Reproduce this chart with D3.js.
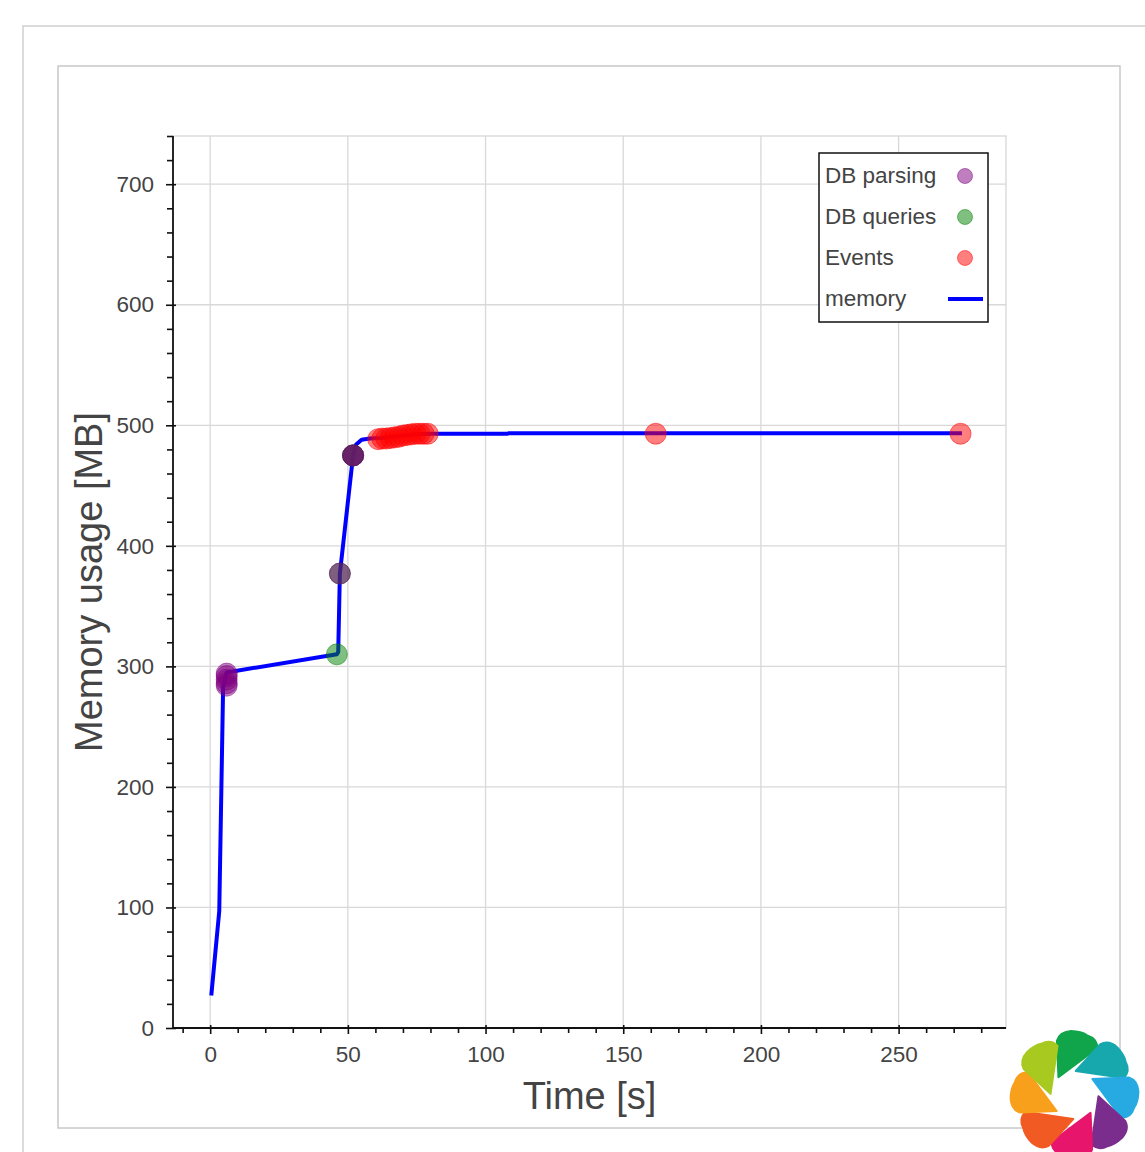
<!DOCTYPE html>
<html><head><meta charset="utf-8">
<script src="https://cdn.jsdelivr.net/npm/d3@7"></script>
<style>
html,body{margin:0;padding:0;background:#fff;}
svg{display:block;}
text{font-family:"Liberation Sans",Arial,Helvetica,sans-serif;}
</style></head>
<body>
<svg id="chart" width="1145" height="1152"></svg>
<script>
// ---------- data ----------
const memoryT = [0.4, 3.3, 4.7, 6.0, 46.0, 46.5, 47.1, 51.9, 53.0, 55.0, 58.0, 62, 66, 70, 75, 80, 108, 108.5, 273];
const memoryV = [27, 97, 283, 295, 310, 312, 377, 475, 484, 488, 489, 489.5, 490.5, 491.5, 492.5, 493, 493, 493.5, 493.5];

const parsingT = [6.0, 6.0, 6.0, 6.0, 6.0, 47.1, 51.9, 51.9];
const parsingV = [284, 286, 289, 292, 294, 377, 475, 475];

const queriesT = [46.0, 47.1, 51.9, 51.9, 51.9];
const queriesV = [310, 377, 475, 475, 475];

const eventsT = [61, 62.5, 64, 65.5, 67, 68.5, 70, 71.5, 73, 74.5, 76, 77.5, 79, 161.8, 272.5];
const eventsV = [488.5, 489, 489, 489.5, 490, 490.5, 491.5, 492, 492.5, 493, 493, 493, 493, 493, 493];

const xTicks = [0, 50, 100, 150, 200, 250];
const yTicks = [0, 100, 200, 300, 400, 500, 600, 700];
const legendLabels = ["DB parsing", "DB queries", "Events", "memory"];
const legendColors = ["purple", "green", "red", "blue"];
const logoColors = ["#10a54a", "#17a8ad", "#27aae1", "#7b2d8e", "#e8156c", "#f15a22", "#f8a01b", "#a7c920"];

// ---------- layout ----------
const svg = d3.select("#chart");
const L = 173, R = 1006, T = 136, B = 1028;
const x = d3.scaleLinear().domain([-13.5, 289]).range([L, R]);
const y = d3.scaleLinear().domain([0, 740]).range([B, T]);

// frames
svg.append("path").attr("d", "M23,1152 L23,26 L1145,26").attr("fill", "none")
  .attr("stroke", "#cfcfcf").attr("stroke-width", 1.5);
svg.append("rect").attr("x", 58).attr("y", 66).attr("width", 1062).attr("height", 1062)
  .attr("fill", "#fff").attr("stroke", "#c8c8c8").attr("stroke-width", 1.5);

// grid
const g = svg.append("g");
g.selectAll("line.vg").data(xTicks).join("line")
  .attr("x1", d => x(d)).attr("x2", d => x(d)).attr("y1", T).attr("y2", B)
  .attr("stroke", "#d8d8d8").attr("stroke-width", 1.3);
g.selectAll("line.hg").data(yTicks).join("line")
  .attr("x1", L).attr("x2", R).attr("y1", d => y(d)).attr("y2", d => y(d))
  .attr("stroke", "#d8d8d8").attr("stroke-width", 1.3);
// outline
svg.append("rect").attr("x", L).attr("y", T).attr("width", R - L).attr("height", B - T)
  .attr("fill", "none").attr("stroke", "#d8d8d8").attr("stroke-width", 1.3);

// axes
const xMinor = d3.range(-10, 290, 10).filter(v => v % 50 !== 0);
const yMinor = d3.range(0, 741, 20).filter(v => v % 100 !== 0);

const xAxisMajor = d3.axisBottom(x).tickValues(xTicks).tickSize(6).tickPadding(12).tickFormat(d3.format("d"));
const xa = svg.append("g").attr("transform", `translate(0,${B})`).call(xAxisMajor);
const xm = svg.append("g").attr("transform", `translate(0,${B})`)
  .call(d3.axisBottom(x).tickValues(xMinor).tickSize(5).tickFormat(""));
const yAxisMajor = d3.axisLeft(y).tickValues(yTicks).tickSize(7).tickPadding(12).tickFormat(d3.format("d"));
const ya = svg.append("g").attr("transform", `translate(${L},0)`).call(yAxisMajor);
const ym = svg.append("g").attr("transform", `translate(${L},0)`)
  .call(d3.axisLeft(y).tickValues(yMinor).tickSize(6).tickFormat(""));
[xa, xm, ya, ym].forEach(a => {
  a.select(".domain").remove();
  a.selectAll("line").attr("stroke", "#111").attr("stroke-width", 1.6);
  a.selectAll("text").attr("fill", "#444").style("font-size", "22.5px");
});
xa.selectAll(".tick line").attr("y1", -3);
ya.selectAll(".tick line").attr("x1", 3);
svg.append("line").attr("x1", L).attr("x2", R).attr("y1", B).attr("y2", B).attr("stroke", "#111").attr("stroke-width", 1.8);
svg.append("line").attr("x1", L).attr("x2", L).attr("y1", T).attr("y2", B).attr("stroke", "#111").attr("stroke-width", 1.8);
ym.selectAll("text").remove();

// axis titles
svg.append("text").attr("x", (L + R) / 2).attr("y", 1109).attr("text-anchor", "middle")
  .attr("fill", "#444").style("font-size", "38px").text("Time [s]");
svg.append("text").attr("transform", `translate(102,${(T + B) / 2}) rotate(-90)`)
  .attr("text-anchor", "middle").attr("fill", "#444").style("font-size", "38px").text("Memory usage [MB]");

// memory line
const memData = memoryT.map((t, i) => [t, memoryV[i]]);
svg.append("path").datum(memData)
  .attr("d", d3.line().x(d => x(d[0])).y(d => y(d[1])))
  .attr("fill", "none").attr("stroke", "blue").attr("stroke-width", 4).attr("stroke-linejoin", "round");

// markers
function drawPts(ts, vs, color) {
  svg.append("g").selectAll("circle").data(ts.map((t, i) => [t, vs[i]])).join("circle")
    .attr("cx", d => x(d[0])).attr("cy", d => y(d[1])).attr("r", 10.5)
    .attr("fill", color).attr("fill-opacity", 0.5)
    .attr("stroke", color).attr("stroke-opacity", 0.5).attr("stroke-width", 1);
}
drawPts(queriesT, queriesV, "green");
drawPts(parsingT, parsingV, "purple");
drawPts(eventsT, eventsV, "red");

// legend
const lg = svg.append("g");
lg.append("rect").attr("x", 819).attr("y", 153).attr("width", 169).attr("height", 169)
  .attr("fill", "#fff").attr("stroke", "#111").attr("stroke-width", 1.5);
legendLabels.forEach((lab, i) => {
  const cy = 176 + i * 41;
  lg.append("text").attr("x", 825).attr("y", cy + 7).attr("fill", "#444").style("font-size", "22.5px").text(lab);
  if (i < 3) {
    lg.append("circle").attr("cx", 965).attr("cy", cy).attr("r", 7.5)
      .attr("fill", legendColors[i]).attr("fill-opacity", 0.5)
      .attr("stroke", legendColors[i]).attr("stroke-opacity", 0.5).attr("stroke-width", 1);
  } else {
    lg.append("line").attr("x1", 948).attr("x2", 983).attr("y1", cy).attr("y2", cy)
      .attr("stroke", legendColors[i]).attr("stroke-width", 4);
  }
});

// logo
const cx0 = 1074.5, cy0 = 1095;
const pol = (r, deg) => { const a = deg * Math.PI / 180; return [cx0 + r * Math.sin(a), cy0 - r * Math.cos(a)]; };
const logo = svg.append("g");
logoColors.forEach((c, k) => {
  const a = k * 45;
  const p0 = pol(24, a - 42), p1 = pol(57, a - 18), p2 = pol(64, a - 3), p3 = pol(61, a + 12), p4 = pol(52, a + 26);
  const ctrl1 = pol(65, a - 13), ctrl2 = pol(61, a + 22);
  const d = `M${p0}L${p1}Q${ctrl1} ${p2}Q${pol(64, a + 6)} ${p3}Q${ctrl2} ${p4}Z`;
  logo.append("path").attr("d", d).attr("fill", c).attr("stroke", c).attr("stroke-width", 2).attr("stroke-linejoin", "round");
});
</script>
</body></html>
